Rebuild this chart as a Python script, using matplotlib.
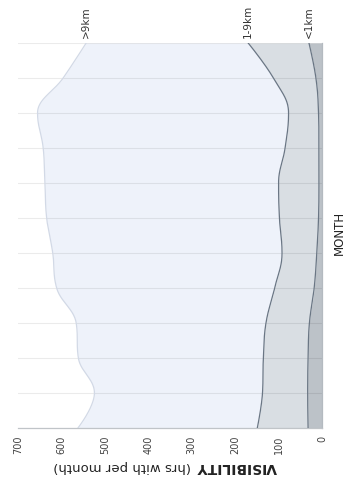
import numpy as np
import matplotlib
matplotlib.use("Agg")
import matplotlib.pyplot as plt

# Monthly visibility hours, stacked from the bottom band upward
months = ["Jan", "Feb", "Mar", "Apr", "May", "Jun",
          "Jul", "Aug", "Sep", "Oct", "Nov", "Dec"]
vis_lt1 = [32, 33, 32, 29, 18, 12, 8, 7, 7, 8, 14, 30]
vis_1to9 = [117, 104, 103, 100, 91, 80, 90, 93, 78, 69, 98, 140]
vis_gt9 = [413, 387, 426, 437, 502, 528, 536, 538, 557, 578, 484, 373]
series_names = ["<1km", "1-9km", ">9km"]
value_ticks = [0, 100, 200, 300, 400, 500, 600, 700]

fills = ["#bcc2c8", "#d9dee3", "#eef2fa"]
edges = ["#6a7684", "#6a7684", "#d2d9e6"]


def spline_curve(xs, ys, smoothing=1.5, steps=40):
    """Cubic Bezier spline through the points (Highcharts-style smoothing)."""
    xs = np.asarray(xs, float)
    ys = np.asarray(ys, float)
    n = len(xs)
    denom = smoothing + 1
    lc = [(x, y) for x, y in zip(xs, ys)]
    rc = [(x, y) for x, y in zip(xs, ys)]
    for i in range(1, n - 1):
        px, py = xs[i], ys[i]
        lx, ly = xs[i - 1], ys[i - 1]
        nx, ny = xs[i + 1], ys[i + 1]
        lcx = (smoothing * px + lx) / denom
        lcy = (smoothing * py + ly) / denom
        rcx = (smoothing * px + nx) / denom
        rcy = (smoothing * py + ny) / denom
        corr = ((rcy - lcy) * (rcx - px)) / (rcx - lcx) + py - rcy
        lcy += corr
        rcy += corr
        if lcy > ly and lcy > py:
            lcy = max(ly, py)
            rcy = 2 * py - lcy
        elif lcy < ly and lcy < py:
            lcy = min(ly, py)
            rcy = 2 * py - lcy
        if rcy > ny and rcy > py:
            rcy = max(ny, py)
            lcy = 2 * py - rcy
        elif rcy < ny and rcy < py:
            rcy = min(ny, py)
            lcy = 2 * py - rcy
        lc[i] = (lcx, lcy)
        rc[i] = (rcx, rcy)
    out_x, out_y = [], []
    t = np.linspace(0, 1, steps)
    for i in range(1, n):
        p0 = np.array([xs[i - 1], ys[i - 1]])
        p1 = np.array(rc[i - 1])
        p2 = np.array(lc[i])
        p3 = np.array([xs[i], ys[i]])
        b = ((1 - t) ** 3)[:, None] * p0 + (3 * (1 - t) ** 2 * t)[:, None] * p1 \
            + (3 * (1 - t) * t ** 2)[:, None] * p2 + (t ** 3)[:, None] * p3
        if i > 1:
            b = b[1:]
        out_x.extend(b[:, 0])
        out_y.extend(b[:, 1])
    return np.array(out_x), np.array(out_y)


W, H = 346, 485
fig = plt.figure(figsize=(W / 100, H / 100), dpi=100)
ax = fig.add_axes([18 / W, (H - 429) / H, (322 - 18) / W, (429 - 44) / H])

idx = np.arange(len(months))
stack = np.cumsum([vis_lt1, vis_1to9, vis_gt9], axis=0)

lower = None
for k in range(3):
    my, top = spline_curve(idx, stack[k])
    base = np.zeros_like(top) if lower is None else lower
    ax.fill_betweenx(my, base, top, color=fills[k], lw=0, zorder=1)
    ax.plot(top, my, color=edges[k], lw=0.9, zorder=3)
    lower = top

# month gridlines
for i in idx:
    ax.axhline(i, color="#000000", alpha=0.08, lw=0.8, zorder=2)

ax.set_xlim(700, 0)
ax.set_ylim(0, len(months) - 1)
ax.set_xticks(value_ticks)
ax.set_xticklabels([str(v) for v in value_ticks], rotation=90,
                   fontsize=7, color="#444444")
ax.tick_params(axis="x", length=0, pad=5)
ax.set_yticks([])
for s in ["top", "left"]:
    ax.spines[s].set_visible(False)
ax.spines["bottom"].set_color("#c0c4c8")
ax.spines["bottom"].set_linewidth(0.9)
ax.spines["right"].set_color("#b4bac0")
ax.spines["right"].set_linewidth(0.9)

# series labels at the December end of each band
for k, name in enumerate(series_names):
    ax.annotate(name, xy=(stack[k][-1], len(months) - 1), xytext=(0, 4),
                textcoords="offset points", rotation=90, ha="center",
                va="bottom", fontsize=7.5, color="#333333", annotation_clip=False)

# value axis title (bold word followed by a regular note), upside down
fig.text(196 / W, 1 - 467 / H, "VISIBILITY", rotation=180, ha="left",
         va="center", fontsize=10, fontweight="bold", color="#222222")
fig.text(191 / W, 1 - 467 / H, "(hrs with per month)", rotation=180,
         ha="right", va="center", fontsize=9.5, color="#222222")
fig.text(339 / W, 1 - 233 / H, "MONTH", rotation=90, ha="center",
         va="center", fontsize=8.5, color="#222222")

fig.savefig("out.png", dpi=100)
